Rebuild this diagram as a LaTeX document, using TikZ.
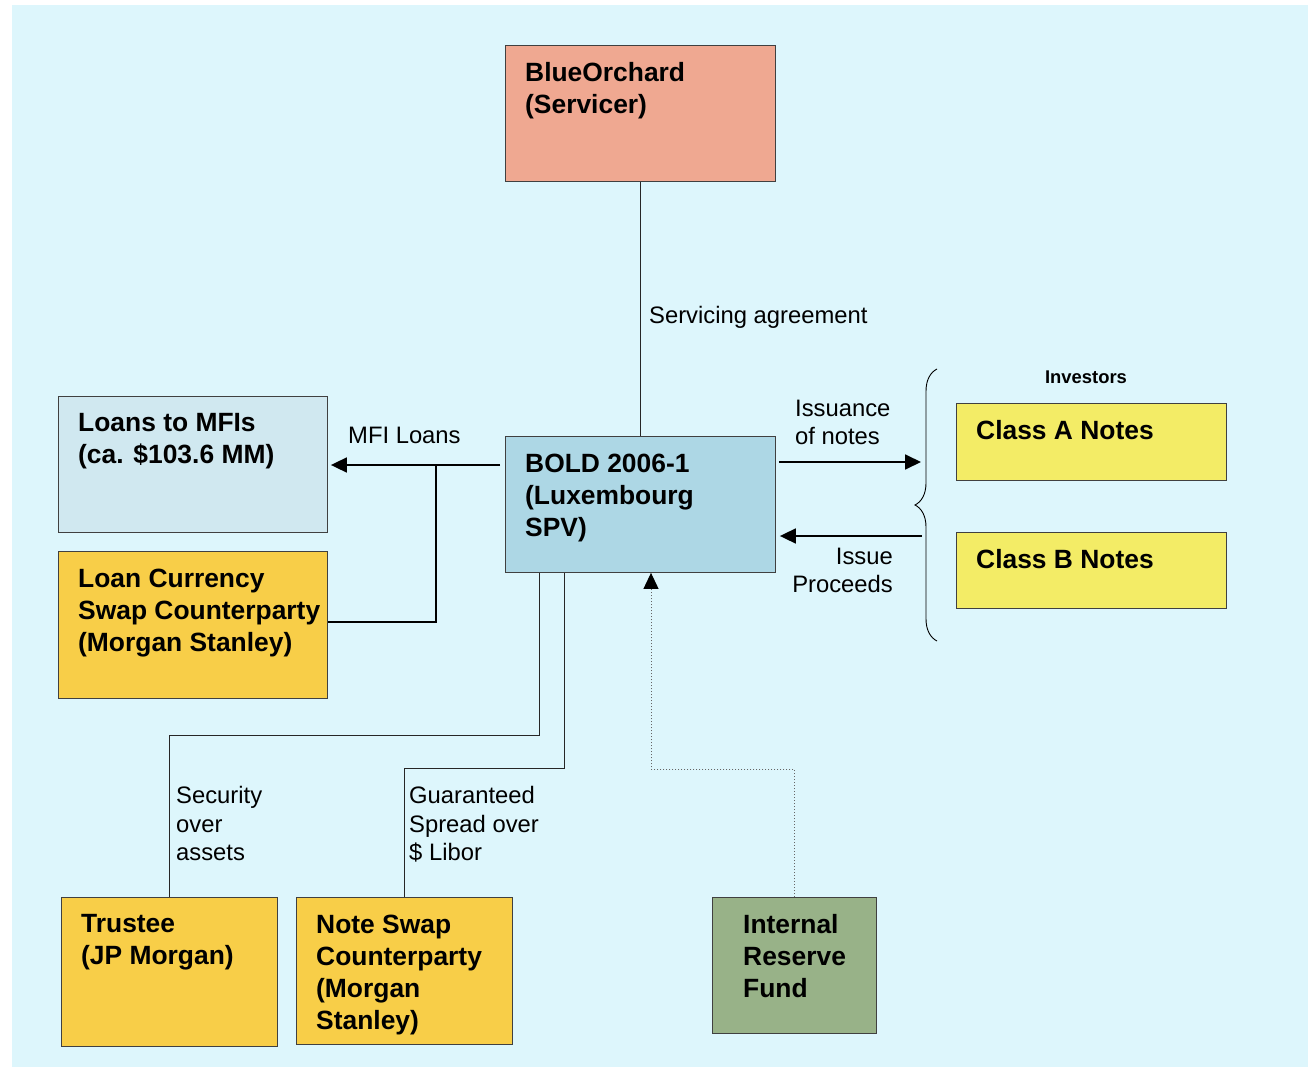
\documentclass[tikz,border=0pt]{standalone}
\usepackage{fontspec}
\setmainfont{Liberation Sans}
\usetikzlibrary{positioning}
\usetikzlibrary{arrows.meta}
\usetikzlibrary{decorations.pathreplacing}
\definecolor{bgblue}{RGB}{221,246,252}
\definecolor{salmon}{RGB}{239,168,145}
\definecolor{loanblue}{RGB}{208,232,240}
\definecolor{spvblue}{RGB}{173,215,229}
\definecolor{gold}{RGB}{248,206,72}
\definecolor{noteyellow}{RGB}{243,236,102}
\definecolor{sage}{RGB}{152,178,136}
\tikzset{
    every picture/.style={x=1pt,y=-1pt},
    box/.style={draw=black!75, line width=0.9pt, anchor=north west, inner sep=0pt,
                minimum width=270pt, minimum height=136pt},
    boxtext/.style={anchor=north west, align=left, inner sep=0pt,
                    font=\fontsize{26.4}{32}\selectfont\bfseries},
    lbl/.style={inner sep=0pt, align=left, font=\fontsize{23.8}{28.5}\selectfont},
    link/.style={draw=black, line width=1.8pt},
    thinlink/.style={draw=black!85, line width=1pt},
    dotlink/.style={draw=black!60, line width=1pt, dash pattern=on 1.5pt off 1.5pt},
    arrowtip/.style={-{Triangle[length=16pt,width=15pt,color=black]}},
}

\begin{document}
\begin{tikzpicture}
    \useasboundingbox (0,0) rectangle (1308,1067);
    \fill[bgblue] (12,5) rectangle (1308,1067);

    % boxes
    \node[box, fill=salmon] (servicer) at (505,45) {};
    \node[boxtext] (servicer-txt) at ([shift={(20,17.5)}]servicer.north west) {BlueOrchard\\(Servicer)};

    \node[box, fill=loanblue, minimum width=269pt] (loans) at (58,396) {};
    \node[boxtext] (loans-txt) at ([shift={(20,17.5)}]loans.north west) {Loans to MFIs\\(ca. \$103.6 MM)};

    \node[box, fill=gold, minimum width=269pt, minimum height=147pt] (swapcp) at (58,551) {};
    \node[boxtext] (swapcp-txt) at ([shift={(20,17.5)}]swapcp.north west) {Loan Currency\\Swap Counterparty\\(Morgan Stanley)};

    \node[box, fill=spvblue] (spv) at (505,436) {};
    \node[boxtext] (spv-txt) at ([shift={(20,17.5)}]spv.north west) {BOLD 2006-1\\(Luxembourg\\SPV)};

    \node[box, fill=noteyellow, minimum height=77pt] (classa) at (956,403) {};
    \node[boxtext] (classa-txt) at ([shift={(20,17.5)}]classa.north west) {Class A Notes};

    \node[box, fill=noteyellow, minimum height=76pt] (classb) at (956,532) {};
    \node[boxtext] (classb-txt) at ([shift={(20,17.5)}]classb.north west) {Class B Notes};

    \node[box, fill=gold, minimum width=216pt, minimum height=149pt] (trustee) at (61,897) {};
    \node[boxtext] (trustee-txt) at ([shift={(20,17.5)}]trustee.north west) {Trustee\\(JP Morgan)};

    \node[box, fill=gold, minimum width=216pt, minimum height=147pt] (notecp) at (296,897) {};
    \node[boxtext] (notecp-txt) at ([shift={(20,17.5)}]notecp.north west) {Note Swap\\Counterparty\\(Morgan\\Stanley)};

    \node[box, fill=sage, minimum width=164pt] (reserve) at (712,897) {};
    \node[boxtext] (reserve-txt) at ([shift={(31,17.5)}]reserve.north west) {Internal\\Reserve\\Fund};

    % investors brace
    \draw[line width=0.9pt, decorate, decoration={brace, amplitude=22pt}] (937,641) -- (937,369);
    \node[inner sep=0pt, anchor=base, font=\fontsize{18.4}{22}\selectfont\bfseries] (investors) at (1086,383.6) {Investors};

    % connectors
    \coordinate (mfi-fork) at (436,465);
    \coordinate (iss-end) at (921,462);
    \coordinate (proc-start) at (922,536);
    \coordinate (sec-bend) at (539,735);
    \coordinate (gsp-bend) at (564,768);
    \coordinate (res-bend) at (651,769);

    \draw[thinlink] (servicer.south) -- (spv.north);
    \draw[link, arrowtip, shorten <=5pt, shorten >=3pt] (spv.west |- mfi-fork) -- (loans.east |- mfi-fork);
    \draw[link] (mfi-fork) |- (swapcp.east |- 0,622);
    \draw[link, arrowtip, shorten <=3pt] (spv.east |- iss-end) -- (iss-end);
    \draw[link, arrowtip, shorten >=4pt] (proc-start) -- (spv.east |- proc-start);
    \draw[thinlink] (spv.south -| sec-bend) -- (sec-bend) -| (trustee.north);
    \draw[thinlink] (spv.south -| gsp-bend) -- (gsp-bend) -| (notecp.north);
    \draw[dotlink, arrowtip] (reserve.north) |- (res-bend) -- (spv.south -| res-bend);

    % labels
    \node[lbl, anchor=base west] (serv-lbl) at (649,323.5) {Servicing agreement};
    \node[lbl, anchor=base west] (mfi-lbl) at (348,443.5) {MFI Loans};
    \node[lbl, anchor=north west] (iss-lbl) at (795,399.5) {Issuance\\of notes};
    \node[lbl, anchor=north east, align=right] (proc-lbl) at (893,547.5) {Issue\\Proceeds};
    \node[lbl, anchor=north west] (sec-lbl) at (176,786.5) {Security\\over\\assets};
    \node[lbl, anchor=north west] (gsp-lbl) at (409,786.5) {Guaranteed\\Spread over\\\$ Libor};
\end{tikzpicture}
\end{document}
